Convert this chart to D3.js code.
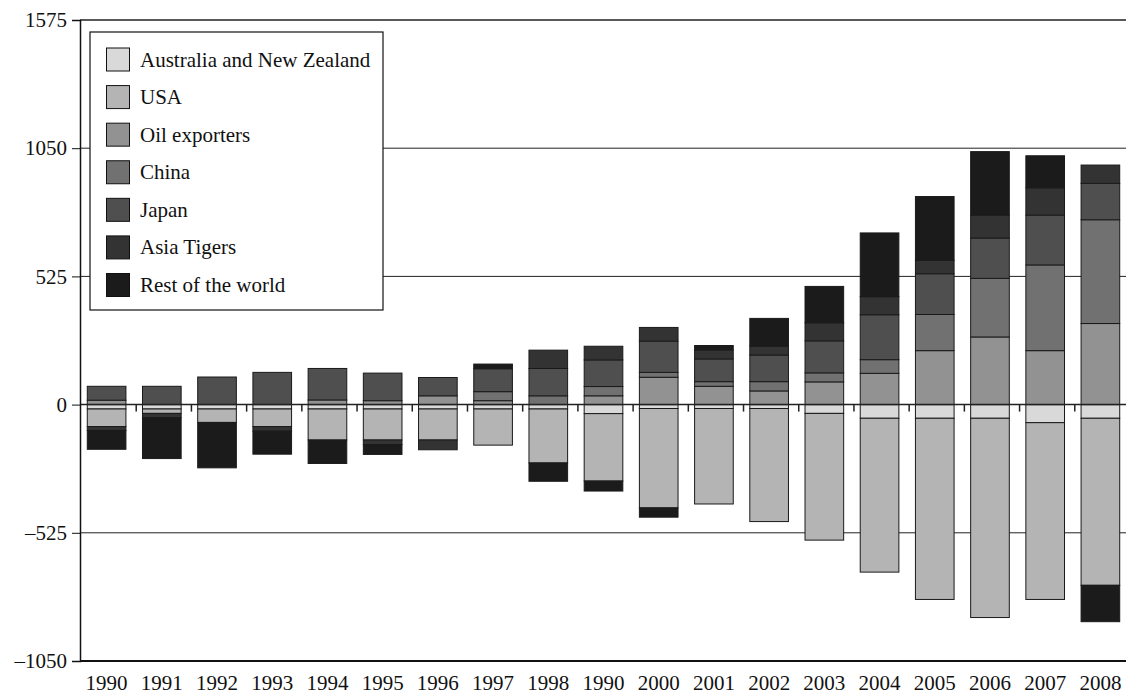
<!DOCTYPE html>
<html>
<head>
<meta charset="utf-8">
<script src="https://cdn.jsdelivr.net/npm/d3@7/dist/d3.min.js"></script>
<style>
  html, body { margin: 0; padding: 0; background: #fff; }
  svg { display: block; }
  text { font-family: "Liberation Serif", "Times New Roman", serif; fill: #111; }
</style>
</head>
<body>
<svg id="chart" width="1126" height="694"></svg>
<script>
// ---- data ----
const years = ["1990","1991","1992","1993","1994","1995","1996","1997","1998","1990","2000","2001","2002","2003","2004","2005","2006","2007","2008"];
const seriesNames = ["Australia and New Zealand","USA","Oil exporters","China","Japan","Asia Tigers","Rest of the world"];
const ausNZ  = [-18,-18,-18,-18,-18,-18,-18,-18,-18,-37,-16,-16,-16,-36,-56,-56,-56,-74,-56];
const usa    = [-72,-18,-55,-72,-127,-127,-127,-148,-221,-276,-407,-391,-463,-519,-630,-742,-816,-724,-684];
const oil    = [18,0,0,0,19,16,36,16,0,36,112,75,56,93,128,221,277,221,332];
const china  = [0,0,0,0,0,0,0,37,36,38,20,19,38,37,56,148,240,351,425];
const japan  = [57,75,113,132,129,113,75,94,112,109,128,93,109,131,184,167,165,204,149];
const tigers = [-16,-18,0,-19,0,-19,-40,0,75,56,56,37,37,74,74,55,94,112,75];
const rest   = [-77,-167,-186,-94,-96,-40,0,19,-75,-41,-38,18,113,149,261,261,260,131,-149];
const yTicks = [-1050,-525,0,525,1050,1575];
const colors = ["#d9d9d9","#b4b4b4","#929292","#717171","#4f4f4f","#333333","#1b1b1b"];

const seriesValues = [ausNZ, usa, oil, china, japan, tigers, rest];

(function () {
// ---- layout ----
const svg = d3.select("#chart");
const left = 80, plotTop = 20, plotBottom = 661;
const plotRight = 1128;
const fs = "21px";

const x = d3.scaleBand().domain(d3.range(years.length)).range([79, plotRight]).paddingInner(0.3).paddingOuter(0.15);
const y = d3.scaleLinear().domain([-1050, 1575]).range([plotBottom, plotTop]);

// gridlines
const grid = svg.append("g");
yTicks.forEach(t => {
  if (t === 0) return;
  grid.append("line")
    .attr("x1", left).attr("x2", 1126)
    .attr("y1", y(t)).attr("y2", y(t))
    .attr("stroke", t === -1050 ? "#111" : "#222")
    .attr("stroke-width", t === -1050 ? 2 : (t === 1575 ? 1.5 : 1));
});

// build stacks
const stacks = [];
years.forEach((yr, i) => {
  let pos = 0, neg = 0;
  seriesValues.forEach((arr, s) => {
    const v = arr[i];
    if (v === 0) return;
    let y0, y1;
    if (v > 0) { y0 = pos; y1 = pos + v; pos = y1; }
    else { y0 = neg; y1 = neg + v; neg = y1; }
    stacks.push({ i, s, y0, y1 });
  });
});

svg.append("g").selectAll("rect").data(stacks).join("rect")
  .attr("x", d => x(d.i))
  .attr("width", x.bandwidth())
  .attr("y", d => Math.min(y(d.y0), y(d.y1)))
  .attr("height", d => Math.abs(y(d.y0) - y(d.y1)))
  .attr("fill", d => colors[d.s])
  .attr("stroke", "#1a1a1a")
  .attr("stroke-width", 1);

// zero axis
svg.append("line")
  .attr("x1", left).attr("x2", 1126)
  .attr("y1", y(0)).attr("y2", y(0))
  .attr("stroke", "#222").attr("stroke-width", 1.5);
const step = x.step();
d3.range(1, years.length).forEach(k => {
  const bx = x(k) - (step - x.bandwidth()) / 2 + 2;
  svg.append("line")
    .attr("x1", bx).attr("x2", bx)
    .attr("y1", y(0)).attr("y2", y(0) + 7)
    .attr("stroke", "#222").attr("stroke-width", 1.5);
});

// y axis
const yAxis = d3.axisLeft(y).tickValues(yTicks).tickSize(8).tickPadding(5)
  .tickFormat(d => d < 0 ? "\u2013" + Math.abs(d) : String(d));
const ya = svg.append("g").attr("transform", `translate(${left},0)`).call(yAxis);
ya.select(".domain").attr("stroke", "#111").attr("stroke-width", 1.5);
ya.selectAll(".tick line").attr("stroke", "#111");
ya.selectAll("text").style("font-size", fs).style("font-family", "'Liberation Serif', serif").attr("fill", "#111");

// x labels
const xAxis = d3.axisBottom(x).tickSize(0).tickPadding(0).tickFormat(i => years[i]);
const xa = svg.append("g").attr("transform", `translate(0,${plotBottom})`).call(xAxis);
xa.select(".domain").remove();
xa.selectAll("text").attr("y", 29).attr("dy", 0)
  .style("font-size", fs).style("font-family", "'Liberation Serif', serif").attr("fill", "#111");

// legend
const lg = svg.append("g");
lg.append("rect").attr("x", 90).attr("y", 32).attr("width", 293).attr("height", 278)
  .attr("fill", "#fff").attr("stroke", "#111").attr("stroke-width", 1.2);
const ly = d3.scalePoint().domain(d3.range(seriesNames.length)).range([59.5, 285]);
seriesNames.forEach((n, s) => {
  lg.append("rect").attr("x", 106.5).attr("y", ly(s) - 11.5).attr("width", 23).attr("height", 23)
    .attr("fill", colors[s]).attr("stroke", "#111").attr("stroke-width", 1);
  lg.append("text").attr("x", 140).attr("y", ly(s) + 7)
    .style("font-size", fs).text(n);
});
})();
</script>
</body>
</html>
